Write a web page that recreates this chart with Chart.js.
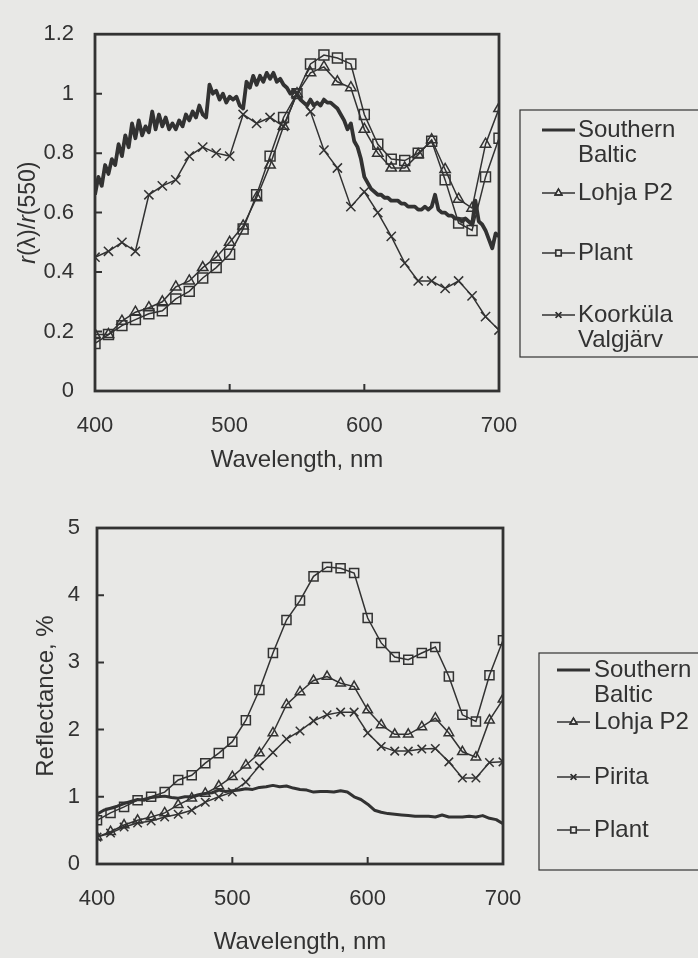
<!DOCTYPE html>
<html>
<head>
<meta charset="utf-8">
<script src="https://cdn.jsdelivr.net/npm/chart.js@4.4.1/dist/chart.umd.min.js"></script>
<style>
  html, body { margin: 0; padding: 0; background: #e8e8e6; }
  body { width: 698px; height: 958px; position: relative; overflow: hidden; }
  .box { position: absolute; left: 0; width: 698px; }
  #topBox { top: 0; height: 480px; }
  #bottomBox { top: 480px; height: 478px; }
</style>
</head>
<body>
<div class="box" id="topBox"><canvas id="ratioChart"></canvas></div>
<div class="box" id="bottomBox"><canvas id="reflChart"></canvas></div>
<script>
// colours
const INK = '#323232';
const PAPER = '#e8e8e6';

// marker series wavelengths (10 nm step), both charts
const wl10 = [400, 410, 420, 430, 440, 450, 460, 470, 480, 490, 500, 510, 520, 530, 540, 550,
              560, 570, 580, 590, 600, 610, 620, 630, 640, 650, 660, 670, 680, 690, 700];

// upper chart: r(λ)/r(550)
const wlBalticTop = [400, 402.5, 405, 407.5, 410, 412.5, 415, 417.5, 420, 422.5, 425, 427.5, 430, 432.5, 435, 437.5,
  440, 442.5, 445, 447.5, 450, 452.5, 455, 457.5, 460, 462.5, 465, 467.5, 470, 472.5, 475, 477.5,
  480, 482.5, 485, 487.5, 490, 492.5, 495, 497.5, 500, 502.5, 505, 507.5, 510, 512.5, 515, 517.5,
  520, 522.5, 525, 527.5, 530, 532.5, 535, 537.5, 540, 542.5, 545, 547.5, 550, 552.5, 555, 557.5,
  560, 562.5, 565, 567.5, 570, 572.5, 575, 577.5, 580, 582.5, 585, 587.5, 590, 592.5, 595, 597.5,
  600, 602.5, 605, 607.5, 610, 612.5, 615, 617.5, 620, 622.5, 625, 627.5, 630, 632.5, 635, 637.5,
  640, 642.5, 645, 647.5, 650, 652.5, 655, 657.5, 660, 662.5, 665, 667.5, 670, 672.5, 675, 677.5,
  680, 682.5, 685, 687.5, 690, 692.5, 695, 697.5, 700];
const balticTop = [0.66, 0.72, 0.69, 0.76, 0.73, 0.78, 0.76, 0.83, 0.79, 0.86, 0.82, 0.90, 0.85, 0.91, 0.86, 0.89,
  0.87, 0.94, 0.88, 0.93, 0.89, 0.92, 0.88, 0.90, 0.88, 0.91, 0.89, 0.93, 0.91, 0.94, 0.92, 0.96,
  0.93, 0.92, 1.03, 1.00, 1.01, 0.98, 1.00, 0.97, 0.99, 0.98, 0.99, 0.96, 0.95, 1.04, 1.02, 1.06,
  1.03, 1.06, 1.04, 1.07, 1.05, 1.07, 1.04, 1.05, 1.03, 1.02, 1.00, 1.01, 1.00, 0.98, 0.97, 0.96,
  0.98, 0.96, 0.97, 0.96, 0.98, 0.97, 0.97, 0.96, 0.95, 0.93, 0.91, 0.88, 0.90, 0.84, 0.82, 0.78,
  0.72, 0.70, 0.68, 0.67, 0.66, 0.66, 0.65, 0.65, 0.64, 0.64, 0.64, 0.63, 0.63, 0.62, 0.62, 0.62,
  0.61, 0.61, 0.62, 0.61, 0.62, 0.66, 0.61, 0.60, 0.60, 0.59, 0.59, 0.58, 0.58, 0.57, 0.58, 0.57,
  0.56, 0.64, 0.57, 0.56, 0.54, 0.51, 0.48, 0.53, 0.52];
const lohjaTop = [0.19, 0.19, 0.235, 0.265, 0.28, 0.30, 0.35, 0.37, 0.415, 0.45, 0.50, 0.555, 0.65, 0.76, 0.89, 1.00,
  1.07, 1.09, 1.04, 1.02, 0.88, 0.80, 0.75, 0.75, 0.795, 0.845, 0.745, 0.645, 0.615, 0.83, 0.95];
const plantTop = [0.16, 0.19, 0.22, 0.24, 0.26, 0.27, 0.31, 0.335, 0.38, 0.415, 0.46, 0.545, 0.66, 0.79, 0.92, 1.00,
  1.10, 1.13, 1.12, 1.10, 0.93, 0.83, 0.78, 0.775, 0.80, 0.84, 0.71, 0.565, 0.54, 0.72, 0.85];
const koorkulaTop = [0.45, 0.47, 0.50, 0.47, 0.66, 0.69, 0.71, 0.79, 0.82, 0.80, 0.79, 0.93, 0.90, 0.92, 0.89, 1.00,
  0.94, 0.81, 0.75, 0.62, 0.67, 0.60, 0.52, 0.43, 0.37, 0.37, 0.345, 0.37, 0.32, 0.25, 0.205];

// lower chart: reflectance, %
const wlBalticBottom = [400, 405, 410, 415, 420, 425, 430, 435, 440, 445, 450, 455, 460, 465, 470, 475,
  480, 485, 490, 495, 500, 505, 510, 515, 520, 525, 530, 535, 540, 545, 550, 555,
  560, 565, 570, 575, 580, 585, 590, 595, 600, 605, 610, 615, 620, 625, 630, 635,
  640, 645, 650, 655, 660, 665, 670, 675, 680, 685, 690, 695, 700];
const balticBottom = [0.74, 0.80, 0.83, 0.86, 0.90, 0.93, 0.96, 0.95, 0.99, 1.00, 1.01, 0.99, 0.98, 1.00, 1.00, 1.03,
  1.05, 1.06, 1.10, 1.08, 1.09, 1.10, 1.12, 1.11, 1.14, 1.15, 1.17, 1.15, 1.16, 1.13, 1.11, 1.10,
  1.07, 1.08, 1.08, 1.07, 1.09, 1.07, 1.00, 0.96, 0.89, 0.80, 0.77, 0.75, 0.74, 0.73, 0.72, 0.71,
  0.71, 0.71, 0.70, 0.73, 0.70, 0.70, 0.70, 0.71, 0.70, 0.72, 0.68, 0.66, 0.60];
const lohjaBottom = [0.40, 0.48, 0.58, 0.65, 0.70, 0.76, 0.88, 0.98, 1.05, 1.16, 1.30, 1.47, 1.65, 1.95, 2.37, 2.56,
  2.73, 2.79, 2.69, 2.64, 2.29, 2.07, 1.93, 1.93, 2.04, 2.17, 1.95, 1.67, 1.59, 2.14, 2.45];
const piritaBottom = [0.40, 0.46, 0.55, 0.61, 0.64, 0.70, 0.74, 0.80, 0.92, 1.00, 1.07, 1.22, 1.46, 1.66, 1.86, 1.98,
  2.13, 2.22, 2.26, 2.26, 1.95, 1.75, 1.68, 1.68, 1.71, 1.72, 1.52, 1.28, 1.28, 1.51, 1.52];
const plantBottom = [0.65, 0.76, 0.85, 0.95, 1.00, 1.07, 1.25, 1.32, 1.50, 1.65, 1.82, 2.14, 2.59, 3.14, 3.63, 3.92,
  4.28, 4.42, 4.40, 4.33, 3.66, 3.29, 3.08, 3.04, 3.14, 3.23, 2.79, 2.22, 2.12, 2.81, 3.33];

Chart.defaults.font.family = '"Liberation Sans", Arial, Helvetica, sans-serif';
Chart.defaults.color = INK;

function pairs(xs, ys) {
    return xs.map((x, i) => ({ x: x, y: ys[i] }));
}

// thin line with hollow markers
function markerSeries(label, xs, ys, style, radius) {
    return {
        label: label,
        data: pairs(xs, ys),
        borderColor: INK,
        borderWidth: 1.5,
        pointStyle: style,
        pointRadius: radius,
        pointBorderWidth: 1.5,
        pointBorderColor: INK,
        pointBackgroundColor: 'rgba(0,0,0,0)',
        tension: 0
    };
}

function thickSeries(label, xs, ys, width) {
    return {
        label: label,
        data: pairs(xs, ys),
        borderColor: INK,
        borderWidth: width,
        borderJoinStyle: 'round',
        pointRadius: 0,
        tension: 0
    };
}

// frame, inward ticks, rotated y title and the boxed legend
const paperPlugin = {
    id: 'paper',
    afterDraw(chart, args, opts) {
        const ctx = chart.ctx;
        const area = chart.chartArea;
        const xs = chart.scales.x;
        const ys = chart.scales.y;
        ctx.save();
        ctx.strokeStyle = INK;
        ctx.fillStyle = INK;

        ctx.lineWidth = 2;
        ctx.beginPath();
        ys.ticks.forEach(t => {
            if (t.value <= ys.min + 1e-6 || t.value >= ys.max - 1e-6) return;
            const py = ys.getPixelForValue(t.value);
            ctx.moveTo(area.left, py);
            ctx.lineTo(area.left + 7, py);
        });
        xs.ticks.forEach(t => {
            if (t.value <= xs.min || t.value >= xs.max) return;
            const px = xs.getPixelForValue(t.value);
            ctx.moveTo(px, area.bottom);
            ctx.lineTo(px, area.bottom - 7);
        });
        ctx.stroke();

        ctx.lineWidth = 2.8;
        ctx.strokeRect(area.left, area.top, area.right - area.left, area.bottom - area.top);

        // y title with italic parts
        if (opts.yTitle) {
            const parts = opts.yTitle.parts;
            const size = opts.yTitle.size;
            const fam = Chart.defaults.font.family;
            let total = 0;
            parts.forEach(p => {
                ctx.font = (p.italic ? 'italic ' : '') + size + 'px ' + fam;
                total += ctx.measureText(p.t).width;
            });
            ctx.translate(opts.yTitle.x, (area.top + area.bottom) / 2);
            ctx.rotate(-Math.PI / 2);
            ctx.textBaseline = 'middle';
            ctx.textAlign = 'left';
            let pos = -total / 2;
            parts.forEach(p => {
                ctx.font = (p.italic ? 'italic ' : '') + size + 'px ' + fam;
                ctx.fillText(p.t, pos, 0);
                pos += ctx.measureText(p.t).width;
            });
            ctx.setTransform(1, 0, 0, 1, 0, 0);
        }

        // legend box
        const lg = opts.legend;
        ctx.lineWidth = 1.2;
        ctx.strokeRect(lg.box[0], lg.box[1], lg.box[2], lg.box[3]);
        ctx.font = lg.size + 'px ' + Chart.defaults.font.family;
        ctx.textBaseline = 'middle';
        ctx.textAlign = 'left';
        lg.rows.forEach(row => {
            const ds = chart.data.datasets[row.dataset];
            ctx.lineWidth = ds.pointRadius ? 1.4 : 3;
            ctx.beginPath();
            ctx.moveTo(lg.sample[0], row.y);
            ctx.lineTo(lg.sample[1], row.y);
            ctx.stroke();
            if (ds.pointRadius) {
                ctx.fillStyle = PAPER;
                Chart.helpers.drawPoint(ctx, {
                    pointStyle: ds.pointStyle,
                    radius: 4,
                    borderWidth: 1.3
                }, (lg.sample[0] + lg.sample[1]) / 2, row.y);
                ctx.stroke();
                ctx.fillStyle = INK;
            }
            row.lines.forEach((txt, i) => {
                ctx.fillText(txt, lg.textX, row.y + i * lg.lineGap);
            });
        });
        ctx.restore();
    }
};

function axes(o) {
    return {
        x: {
            type: 'linear',
            min: 400,
            max: 700,
            afterFit: s => { s.height = o.xHeight; },
            grid: { display: false, drawTicks: false },
            border: { display: false },
            ticks: { stepSize: 100, padding: 22, font: { size: 22 }, color: INK },
            title: {
                display: true,
                text: 'Wavelength, nm',
                color: INK,
                font: { size: 24, lineHeight: 1.2 },
                padding: { top: 0, bottom: o.xTitlePad }
            }
        },
        y: {
            min: 0,
            max: o.yMax,
            afterFit: s => { s.width = o.yWidth; },
            grid: { display: false, drawTicks: false },
            border: { display: false },
            ticks: {
                stepSize: o.yStep,
                padding: o.yPad,
                font: { size: 22 },
                color: INK,
                callback: v => String(Math.round(v * 10) / 10)
            },
            title: o.yTitle
        }
    };
}

// upper chart
new Chart(document.getElementById('ratioChart').getContext('2d'), {
    type: 'line',
    data: {
        datasets: [
            thickSeries('Southern Baltic', wlBalticTop, balticTop, 3.8),
            markerSeries('Lohja P2', wl10, lohjaTop, 'triangle', 6),
            markerSeries('Plant', wl10, plantTop, 'rect', 7),
            markerSeries('Koorküla Valgjärv', wl10, koorkulaTop, 'crossRot', 6.5)
        ]
    },
    options: {
        responsive: true,
        maintainAspectRatio: false,
        animation: false,
        layout: { padding: { top: 22, right: 199, left: 0, bottom: 0 } },
        scales: axes({ xHeight: 89, xTitlePad: 5, yMax: 1.2, yStep: 0.2, yWidth: 95, yPad: 21,
                       yTitle: { display: false } }),
        plugins: {
            legend: { display: false },
            tooltip: { enabled: false },
            paper: {
                yTitle: {
                    x: 29,
                    size: 23,
                    parts: [{ t: 'r', italic: true }, { t: '(λ)/' }, { t: 'r', italic: true }, { t: '(550)' }]
                },
                legend: {
                    box: [520, 110, 200, 247],
                    size: 24,
                    lineGap: 25,
                    sample: [542, 575],
                    textX: 578,
                    rows: [
                        { dataset: 0, y: 130, lines: ['Southern', 'Baltic'] },
                        { dataset: 1, y: 193, lines: ['Lohja P2'] },
                        { dataset: 2, y: 253, lines: ['Plant'] },
                        { dataset: 3, y: 315, lines: ['Koorküla', 'Valgjärv'] }
                    ]
                }
            }
        }
    },
    plugins: [paperPlugin]
});

// lower chart
new Chart(document.getElementById('reflChart').getContext('2d'), {
    type: 'line',
    data: {
        datasets: [
            thickSeries('Southern Baltic', wlBalticBottom, balticBottom, 3),
            markerSeries('Lohja P2', wl10, lohjaBottom, 'triangle', 5.5),
            markerSeries('Pirita', wl10, piritaBottom, 'crossRot', 6),
            markerSeries('Plant', wl10, plantBottom, 'rect', 6.4)
        ]
    },
    options: {
        responsive: true,
        maintainAspectRatio: false,
        animation: false,
        layout: { padding: { top: 48, right: 195, left: 0, bottom: 0 } },
        scales: axes({ xHeight: 94, xTitlePad: 1, yMax: 5, yStep: 1, yWidth: 97, yPad: 17,
                       yTitle: {
                           display: true,
                           text: 'Reflectance, %',
                           color: INK,
                           font: { size: 24, lineHeight: 1.2 },
                           padding: { top: 32, bottom: 0 }
                       } }),
        plugins: {
            legend: { display: false },
            tooltip: { enabled: false },
            paper: {
                legend: {
                    box: [539, 173, 200, 217],
                    size: 24,
                    lineGap: 25,
                    sample: [557, 590],
                    textX: 594,
                    rows: [
                        { dataset: 0, y: 190, lines: ['Southern', 'Baltic'] },
                        { dataset: 1, y: 242, lines: ['Lohja P2'] },
                        { dataset: 2, y: 297, lines: ['Pirita'] },
                        { dataset: 3, y: 350, lines: ['Plant'] }
                    ]
                }
            }
        }
    },
    plugins: [paperPlugin]
});
</script>
</body>
</html>
